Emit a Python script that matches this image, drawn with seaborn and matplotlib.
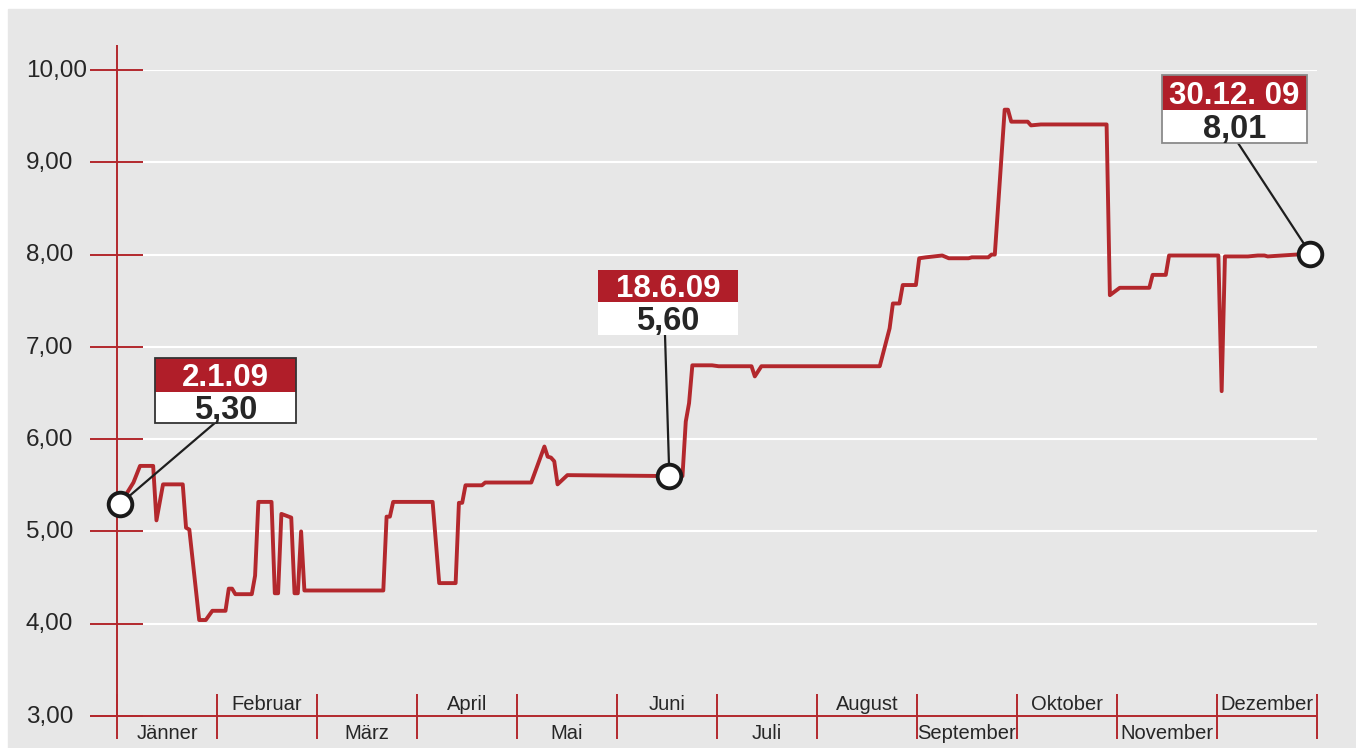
import pandas as pd
import matplotlib.pyplot as plt
import seaborn as sns
from matplotlib.patches import Rectangle

# ---------------- DATOS ---------------- #
fechas = ["02.01.2009", "06.01.2009", "08.01.2009", "12.01.2009", "13.01.2009", "15.01.2009",
          "21.01.2009", "22.01.2009", "23.01.2009", "26.01.2009", "28.01.2009", "30.01.2009",
          "03.02.2009", "04.02.2009", "05.02.2009", "06.02.2009", "11.02.2009", "12.02.2009",
          "13.02.2009", "17.02.2009", "18.02.2009", "19.02.2009", "20.02.2009", "23.02.2009",
          "24.02.2009", "25.02.2009", "26.02.2009", "27.02.2009",
          "23.03.2009", "24.03.2009", "25.03.2009", "26.03.2009",
          "07.04.2009", "09.04.2009", "14.04.2009", "15.04.2009", "16.04.2009", "17.04.2009",
          "22.04.2009", "23.04.2009",
          "07.05.2009", "11.05.2009", "12.05.2009", "13.05.2009", "14.05.2009", "15.05.2009",
          "18.05.2009",
          "18.06.2009", "22.06.2009", "23.06.2009", "24.06.2009", "25.06.2009",
          "01.07.2009", "03.07.2009", "13.07.2009", "14.07.2009", "16.07.2009",
          "21.08.2009", "24.08.2009", "25.08.2009", "27.08.2009", "28.08.2009",
          "01.09.2009", "02.09.2009", "04.09.2009", "09.09.2009", "11.09.2009", "17.09.2009",
          "18.09.2009", "23.09.2009", "24.09.2009", "25.09.2009", "28.09.2009", "29.09.2009",
          "30.09.2009",
          "05.10.2009", "06.10.2009", "09.10.2009", "29.10.2009", "30.10.2009",
          "02.11.2009", "11.11.2009", "12.11.2009", "16.11.2009", "17.11.2009",
          "02.12.2009", "03.12.2009", "04.12.2009", "11.12.2009", "14.12.2009", "16.12.2009",
          "17.12.2009", "30.12.2009"]

kurs = [5.30, 5.53, 5.71, 5.71, 5.12, 5.51, 5.51, 5.04, 5.02, 4.04, 4.04, 4.14,
        4.14, 4.38, 4.38, 4.32, 4.32, 4.52, 5.32, 5.32, 4.33, 4.33, 5.19, 5.15,
        4.33, 4.33, 5.00, 4.36,
        4.36, 5.16, 5.16, 5.32,
        5.32, 4.44, 4.44, 5.31, 5.31, 5.50, 5.50, 5.53,
        5.53, 5.92, 5.81, 5.80, 5.76, 5.51, 5.61,
        5.60, 5.60, 6.19, 6.39, 6.80,
        6.80, 6.79, 6.79, 6.68, 6.79,
        6.79, 7.20, 7.47, 7.47, 7.67,
        7.67, 7.96, 7.97, 7.99, 7.96, 7.96, 7.97, 7.97, 8.00, 8.00, 9.57, 9.57, 9.44,
        9.44, 9.40, 9.41, 9.41, 7.56,
        7.64, 7.64, 7.78, 7.78, 7.99,
        7.99, 6.52, 7.98, 7.98, 7.99, 7.99, 7.98, 8.01]

# puntos destacados
marcas_fechas = ["02.01.2009", "18.06.2009", "30.12.2009"]
marcas_titulos = ["2.1.09", "18.6.09", "30.12. 09"]
marcas_valores = ["5,30", "5,60", "8,01"]

monate = ["Jänner", "Februar", "März", "April", "Mai", "Juni", "Juli",
          "August", "September", "Oktober", "November", "Dezember"]
y_ticks = [3, 4, 5, 6, 7, 8, 9, 10]

# ---------------- PREPARAR ---------------- #
inicio = pd.Timestamp("2009-01-01")
df = pd.DataFrame({"fecha": pd.to_datetime(fechas, format="%d.%m.%Y"), "kurs": kurs})
df["tag"] = (df["fecha"] - inicio).dt.days

ROT = "#b3282d"
ROT_BOX = "#b01e29"
TXT = "#262626"

plt.rcParams['font.family'] = ['Liberation Sans', 'DejaVu Sans']

fig = plt.figure(figsize=(13.56, 7.48), dpi=100)
fig.patch.set_facecolor("white")
fig.add_artist(Rectangle((8 / 1356, 0), 1, (748 - 9) / 748, transform=fig.transFigure,
                         color="#e7e7e7", zorder=0))

ax = fig.add_axes([117 / 1356, (748 - 716) / 748, 1200 / 1356, 646 / 748])
ax.set_facecolor("none")
ax.set_xlim(0, 365)
ax.set_ylim(3, 10)
ax.axis("off")


# conversion de pixeles de la imagen a coordenadas del eje (solo para la maqueta)
def px_x(px):
    return (px - 117) * 365 / 1200


def px_y(py):
    return 10 - (py - 70) / 92.29


# lineas horizontales y marcas rojas
for v in y_ticks:
    if v > 3:
        ax.hlines(v, px_x(143), 365, color="white", lw=1.5, zorder=1)
    ax.hlines(v, px_x(90), px_x(143), color=ROT, lw=1.4, zorder=2, clip_on=False)
    ax.text(px_x(26), v - 0.073, f"{v:.2f}".replace(".", ","), ha="left", va="baseline",
            fontsize=17.5, color=TXT, clip_on=False)

ax.vlines(0, 3, px_y(45), color=ROT, lw=1.4, zorder=2, clip_on=False)
ax.hlines(3, px_x(90), 365, color=ROT, lw=1.4, zorder=2, clip_on=False)

# meses
ancho_mes = 365 / 12
for i in range(13):
    ax.vlines(i * ancho_mes, px_y(739), px_y(694), color=ROT, lw=1.4, zorder=2, clip_on=False)
for i, m in enumerate(monate):
    y_txt = px_y(710.5) if i % 2 == 1 else px_y(739)
    ax.text((i + 0.5) * ancho_mes, y_txt, m, ha="center", va="baseline",
            fontsize=14.5, color=TXT, clip_on=False)

# linea principal
sns.lineplot(data=df, x="tag", y="kurs", ax=ax, color=ROT, lw=2.8, zorder=3)

# cajas de anotacion: (izq, der, arriba, mitad, abajo, punto de conexion, borde)
cajas = [
    (155, 296, 358, 392, 423, (216, 422), "#333333"),
    (598, 738, 270, 302, 335, (665, 335), None),
    (1162, 1307, 75, 110, 143, (1238, 143), "#8a8a8a"),
]

for fecha, titulo, valor, caja in zip(marcas_fechas, marcas_titulos, marcas_valores, cajas):
    fila = df[df["fecha"] == pd.to_datetime(fecha, format="%d.%m.%Y")].iloc[0]
    izq, der, arr, mid, aba, con, borde = caja
    x0, x1 = px_x(izq), px_x(der)
    ya, ym, yb = px_y(arr), px_y(mid), px_y(aba)
    ax.plot([px_x(con[0]), fila["tag"]], [px_y(con[1]), fila["kurs"]], color="#1e1e1e",
            lw=1.6, zorder=4, clip_on=False)
    ax.add_patch(Rectangle((x0, ym), x1 - x0, ya - ym, facecolor=ROT_BOX, edgecolor="none",
                           zorder=5, clip_on=False))
    ax.add_patch(Rectangle((x0, yb), x1 - x0, ym - yb, facecolor="white", edgecolor="none",
                           zorder=5, clip_on=False))
    if borde:
        ax.add_patch(Rectangle((x0, yb), x1 - x0, ya - yb, facecolor="none", edgecolor=borde,
                               lw=1.3, zorder=6, clip_on=False))
    ax.text((x0 + x1) / 2, (ya + ym) / 2, titulo, ha="center", va="center_baseline",
            fontsize=22.5, fontweight="bold", color="white", zorder=7, clip_on=False)
    ax.text((x0 + x1) / 2, (ym + yb) / 2, valor, ha="center", va="center_baseline",
            fontsize=23.5, fontweight="bold", color=TXT, zorder=7, clip_on=False)
    ax.plot(fila["tag"], fila["kurs"], "o", ms=17, mfc="white", mec="#1a1a1a", mew=2.8,
            zorder=8, clip_on=False)

fig.savefig("out.png", dpi=100)
